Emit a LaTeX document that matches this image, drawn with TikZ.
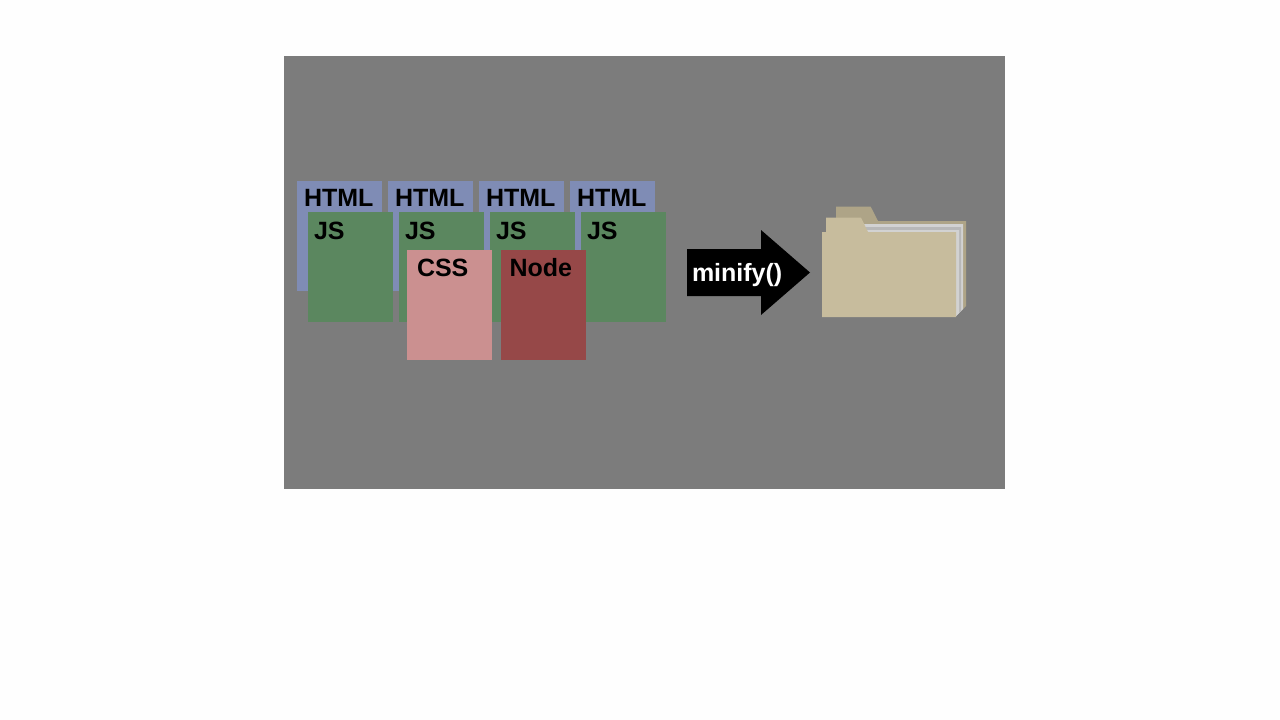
\documentclass[tikz,border=0pt]{standalone}
\usepackage{fontspec}
\setmainfont{Liberation Sans}
\usetikzlibrary{positioning}
\definecolor{panelgray}{HTML}{7C7C7C}
\definecolor{htmlblue}{HTML}{7F8CB5}
\definecolor{jsgreen}{HTML}{5B875F}
\definecolor{csspink}{HTML}{CB9090}
\definecolor{nodered}{HTML}{964848}
\definecolor{foldertan}{HTML}{C7BC9D}
\definecolor{folderback}{HTML}{AEA487}
\definecolor{sheetlight}{HTML}{D2D2D2}
\definecolor{sheetdark}{HTML}{B8B8B8}
\begin{document}
\begin{tikzpicture}[x=1pt,y=-1pt,
            every node/.style={rectangle, align=left, inner ysep=0pt, outer sep=0pt, font=\fontsize{25}{25}\selectfont\bfseries},
            sheet/.style={anchor=north west, minimum width=85pt, text height=25pt, text depth=85pt},
            htmlbox/.style={sheet, fill=htmlblue, inner xsep=7pt, text width=71pt},
            jsbox/.style={sheet, fill=jsgreen, inner xsep=6pt, text width=73pt, text height=27pt, text depth=83pt},
            cssbox/.style={sheet, fill=csspink, inner xsep=10pt, text width=65pt, text height=26pt, text depth=84pt},
            nodebox/.style={sheet, fill=nodered, inner xsep=8.5pt, text width=68pt, text height=26pt, text depth=84pt}]
    \useasboundingbox (0,0) rectangle (1280,720);
    \fill [white!99.6!black] (0,0) rectangle (1280,720);
    \fill [panelgray] (284,56) rectangle (1005,489);
    % blue row, then green row over it
    \node [htmlbox] (html1) at (297,181) {HTML};
    \node [htmlbox, right=6pt of html1] (html2) {HTML};
    \node [htmlbox, right=6pt of html2] (html3) {HTML};
    \node [htmlbox, right=6pt of html3] (html4) {HTML};
    \node [jsbox] (js1) at (308,212) {JS};
    \node [jsbox, right=6pt of js1] (js2) {JS};
    \node [jsbox, right=6pt of js2] (js3) {JS};
    \node [jsbox, right=6pt of js3] (js4) {JS};
    \node [cssbox] (css) at (407,250) {CSS};
    \node [nodebox] (nodejs) at (501,250) {Node};
    % arrow
    \fill [black] (687,249) -- (761,249) -- (761,230) -- (810,272.5) -- (761,315) -- (761,296) -- (687,296) -- cycle;
    \node [anchor=base west, inner xsep=0pt, text=white] (minify) at (692,281) {minify()};
    % folder
    \fill [folderback] (836,206.7) -- (870.7,206.7) -- (878,221) -- (966,221) -- (966,306) -- (956,316) -- (836,316) -- cycle;
    \fill [sheetlight] (860,224) -- (963,224) -- (963,309) -- (956,316) -- (860,316) -- cycle;
    \fill [sheetdark] (862,227) -- (961,227) -- (961,311) -- (956,316) -- (862,316) -- cycle;
    \fill [sheetlight] (864,230) -- (959,230) -- (959,313) -- (956,316) -- (864,316) -- cycle;
    \fill [foldertan] (822,232) -- (826,232) -- (826,217.5) -- (861,217.5) -- (868,232) -- (956,232) -- (956,317) -- (822,317) -- cycle;
\end{tikzpicture}
\end{document}
